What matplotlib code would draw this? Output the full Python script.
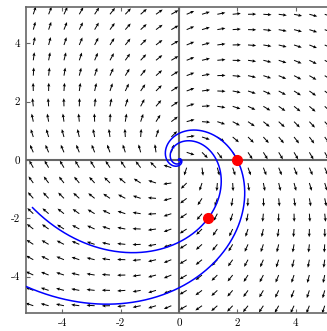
import numpy as np
import matplotlib
matplotlib.use("Agg")
import matplotlib.pyplot as plt

# system x' = A x
A = [[1.0, 2.0],
     [-2.0, 1.0]]
starts_x = [2.0, 1.0]   # initial points (red dots)
starts_y = [0.0, -2.0]
t_end = [1.3, 0.86]     # forward time shown for each trajectory
grid_n = 20             # arrows per row / column
lim = 5.25
ticks = [-4, -2, 0, 2, 4]

plt.rcParams['font.family'] = 'cmr10'
plt.rcParams['axes.unicode_minus'] = False
plt.rcParams['axes.formatter.use_mathtext'] = False

fig = plt.figure(figsize=(3.27, 3.31), dpi=100)
ax = fig.add_axes([26 / 327, 18 / 331, 306 / 327, 306 / 331])

# direction field, unit arrows
M = np.array(A)
g = np.linspace(-5, 5, grid_n)
X, Y = np.meshgrid(g, g)
U = M[0, 0] * X + M[0, 1] * Y
V = M[1, 0] * X + M[1, 1] * Y
n = np.hypot(U, V)
n[n == 0] = 1
L = 0.28
ax.quiver(X, Y, U / n * L, V / n * L, angles='xy', scale_units='xy', scale=1,
          color='black', width=0.0032, headwidth=3.3, headlength=3.8, headaxislength=3.3,
          pivot='tail', zorder=2)

# axis lines through origin
ax.axhline(0, color='#666666', lw=1.5, zorder=1)
ax.axvline(0, color='#666666', lw=1.5, zorder=1)

# trajectories via eigen decomposition
w, vec = np.linalg.eig(M)
vinv = np.linalg.inv(vec)
for x0, y0, te in zip(starts_x, starts_y, t_end):
    t = np.linspace(-12, te, 4000)
    c = vinv @ np.array([x0, y0])
    sol = (vec @ (c[:, None] * np.exp(np.outer(w, t)))).real
    ax.plot(sol[0], sol[1], color='blue', lw=1.1, zorder=3)

ax.plot(starts_x, starts_y, 'o', color='red', ms=7, zorder=4)

ax.set_xlim(-lim, lim)
ax.set_ylim(-lim, lim)
ax.set_xticks(ticks)
ax.set_yticks(ticks)
ax.tick_params(direction='in', length=3, width=0.8, color='#666666',
               top=True, right=True, labelsize=8, pad=4)
for s in ax.spines.values():
    s.set_color('#666666')
    s.set_linewidth(1.2)

fig.savefig('out.png', dpi=100)
